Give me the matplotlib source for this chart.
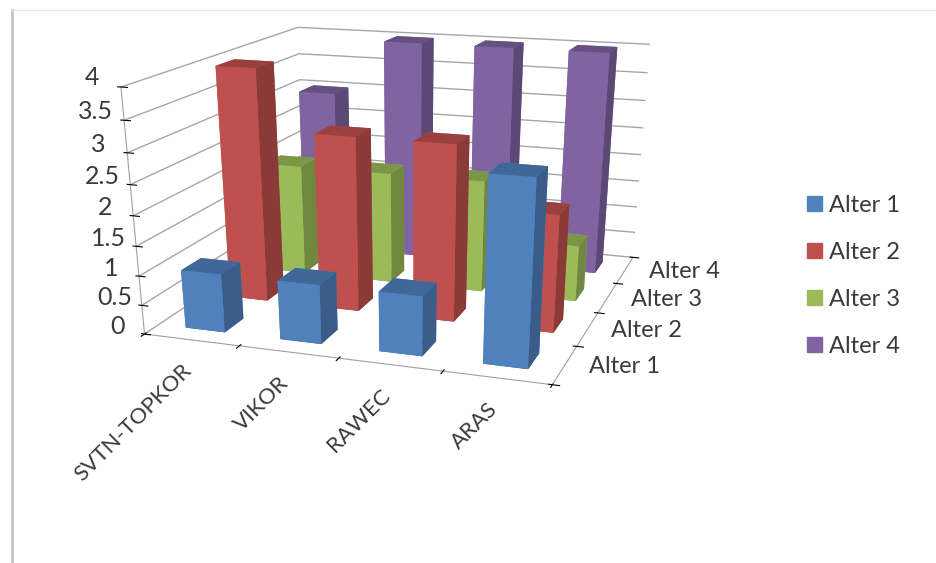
import numpy as np
import matplotlib
matplotlib.use("Agg")
import matplotlib.pyplot as plt
from matplotlib.patches import Rectangle
from matplotlib.lines import Line2D
from mpl_toolkits.mplot3d import proj3d

methods = ["SVTN-TOPKOR", "VIKOR", "RAWEC", "ARAS"]
series = ["Alter 1", "Alter 2", "Alter 3", "Alter 4"]
alter1 = [1, 1, 1, 3]
alter2 = [4, 3, 3, 2]
alter3 = [2, 2, 2, 1]
alter4 = [3, 4, 4, 4]
yticks = [0, 0.5, 1, 1.5, 2, 2.5, 3, 3.5, 4]
colors = ["#4F81BD", "#C0504D", "#9BBB59", "#8064A2"]
values = [alter1, alter2, alter3, alter4]
TXT = "#3a3a3a"

def shade(c, f):
    return tuple(np.array(matplotlib.colors.to_rgb(c)) * f)

plt.rcParams["font.family"] = ["Lato", "DejaVu Sans"]
fig = plt.figure(figsize=(9.36, 5.63), dpi=100)
ax = fig.add_axes([14.4 / 936, 91.2 / 563, 0.82, 1.0], projection="3d")
ax.apply_aspect = lambda position=None: None  # keep the wide axes box
ax.patch.set_alpha(0)
ax.set_proj_type("persp", focal_length=0.337)
ax.view_init(elev=19.4, azim=-71.34)
ax.set_box_aspect((1.002, 1.0, 0.831), zoom=0.825)
wx, wy = 0.42, 0.42
xs, ys, dzs, cs = [], [], [], []
for j, v in enumerate(values):
    for i, h in enumerate(v):
        xs.append(i + 0.5 - wx / 2); ys.append(j + 0.5 - wy / 2); dzs.append(h)
        c = colors[j]
        # bottom, top, front, back, left, right
        cs += [shade(c, .7), shade(c, .8), c, c, c, shade(c, .72)]
ax.bar3d(xs, ys, np.zeros(len(xs)), wx, wy, dzs, color=cs, shade=False, zsort="average")
ax.set_xlim(0, 4); ax.set_ylim(0, 4); ax.set_zlim(0, 4)
ax.set_xticks(range(5), [""] * 5)
ax.set_yticks(range(5), [""] * 5)
ax.set_zticks(yticks, [f"{t:g}" for t in yticks], fontsize=18, color=TXT)
ax.zaxis._axinfo["juggled"] = (1, 2, 0)
for t in ax.zaxis.get_ticklabels():
    t.set_va("bottom")
for a in (ax.xaxis, ax.yaxis, ax.zaxis):
    a.set_pane_color((1, 1, 1, 1))
    a.pane.set_edgecolor("none")
    a.line.set_color("#a0a0a0")
    a._axinfo["grid"].update(color="#a6a6a6", linewidth=1.0)
    a._axinfo["tick"]["color"] = "#a0a0a0"
ax.xaxis._axinfo["grid"]["linewidth"] = 0
ax.yaxis._axinfo["grid"]["linewidth"] = 0
M = ax.get_proj()
for i, m in enumerate(methods):
    px, py, _ = proj3d.proj_transform(i + 0.5, 0, 0, M)
    ax.annotate(m, (px, py), xytext=(-2, -20), textcoords="offset points", rotation=45, rotation_mode="anchor", ha="right", va="center", fontsize=16, color=TXT)
for j, s in enumerate(series):
    px, py, _ = proj3d.proj_transform(4, j + 0.5, 0, M)
    ax.annotate(s, (px, py), xytext=(17, -1), textcoords="offset points", ha="left", va="center", fontsize=17, color=TXT)
handles = [Rectangle((0, 0), 1, 1, color=c) for c in colors]
leg = fig.legend(handles, series, loc="center left", bbox_to_anchor=(0.84, 0.51), frameon=False, fontsize=17, handlelength=0.6, handleheight=0.6, labelspacing=1.1, handletextpad=0.3, labelcolor=TXT)
fig.add_artist(Line2D([12/936, 12/936], [0, 1-10/563], color="#c4c4c4", lw=2, transform=fig.transFigure))
fig.add_artist(Line2D([12/936, 1], [1-10/563, 1-10/563], color="#e6e6e6", lw=1, transform=fig.transFigure))
fig.savefig("out.png", dpi=100)
